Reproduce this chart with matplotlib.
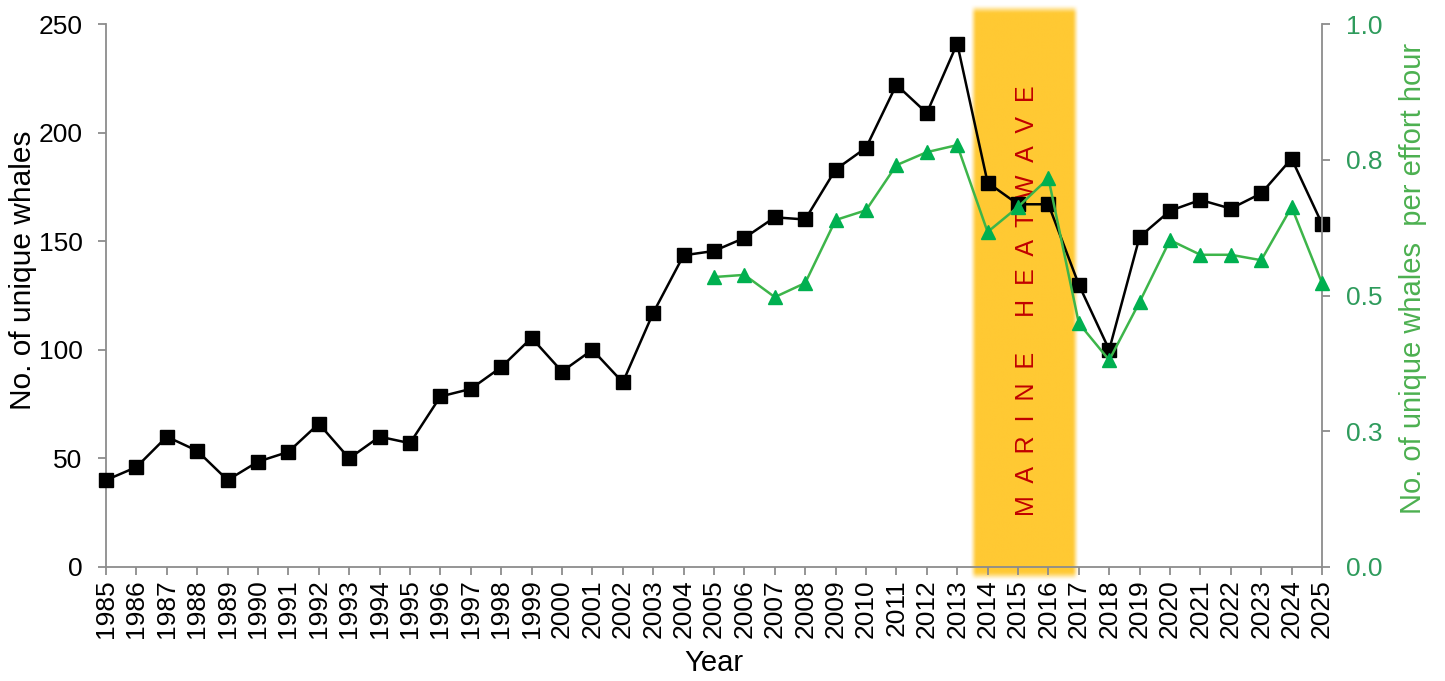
import numpy as np
import matplotlib
matplotlib.use("Agg")
import matplotlib.pyplot as plt
import matplotlib.transforms as mtransforms

plt.rcParams['font.family'] = ['Liberation Sans', 'DejaVu Sans']

# ---------------- data ----------------
years = list(range(1985, 2026))
unique_whales = [40, 46, 60, 53.5, 40, 48.5, 53, 66, 50, 60, 57, 78.5, 82, 92, 105.5,
                 90, 100, 85, 117, 143.5, 145.5, 151.5, 161, 160, 183, 193, 222, 209,
                 241, 177, 167, 167, 130, 100, 152, 164, 169, 165, 172, 188, 158]

effort_years = list(range(2005, 2026))
whales_per_hour = [0.534, 0.538, 0.497, 0.523, 0.639, 0.657, 0.740, 0.764, 0.777,
                   0.617, 0.663, 0.716, 0.449, 0.381, 0.488, 0.602, 0.575, 0.575,
                   0.565, 0.663, 0.523]

left_ticks = [0, 50, 100, 150, 200, 250]
right_ticks = [0.0, 0.25, 0.5, 0.75, 1.0]
right_tick_labels = ["0.0", "0.3", "0.5", "0.8", "1.0"]

heatwave_start, heatwave_end = 2013.52, 2016.88
heatwave_label = "M  A  R  I  N  E     H  E  A  T  W  A  V  E"

# ---------------- styling ----------------
W, H = 1445, 681
fig = plt.figure(figsize=(W / 100, H / 100), dpi=100)
ax = fig.add_axes([106 / W, 1 - 567 / H, (1322 - 106) / W, (567 - 24) / H])
ax2 = ax.twinx()

spine_col = '#8c8c8c'
green_mark = '#00B050'
green_line = '#3DB54A'
green_tick = '#2E9B5C'
green_label = '#4CB050'
band_col = np.array([255, 201, 51]) / 255.0

# heatwave band with soft edges
nx, ny = 200, 400
bx0, bx1 = heatwave_start - 0.3, heatwave_end + 0.3
by0, by1 = -0.05, 1.06
xs = np.linspace(bx0, bx1, nx)
ys = np.linspace(by0, by1, ny)
blur_x = 0.24
blur_y = 0.018
def smooth(t):
    t = np.clip(t, 0, 1)
    return t * t * (3 - 2 * t)
ax_prof = smooth((xs - (heatwave_start - blur_x / 2)) / blur_x) * \
    smooth(((heatwave_end + blur_x / 2) - xs) / blur_x)
y_top, y_bot = 1.027, -0.018
ay_prof = smooth((ys - (y_bot - blur_y / 2)) / blur_y) * \
    smooth(((y_top + blur_y / 2) - ys) / blur_y)
alpha = np.outer(ay_prof[::-1], ax_prof)
img = np.zeros((ny, nx, 4))
img[..., :3] = band_col
img[..., 3] = alpha
trans = mtransforms.blended_transform_factory(ax.transData, ax.transAxes)
ax.imshow(img, extent=[bx0, bx1, by0, by1], transform=trans, aspect='auto',
          interpolation='bilinear', zorder=0, clip_on=False)

ax.text((heatwave_start + heatwave_end) / 2 + 0.1, 0.49, heatwave_label,
        transform=trans, rotation=90, ha='center', va='center',
        color='#C00000', fontsize=18, zorder=1)

ax.plot(years, unique_whales, color='black', lw=1.8, marker='s', ms=10.5,
        zorder=3, clip_on=False)
ax2.plot(effort_years, whales_per_hour, color=green_line, lw=1.8, marker='^',
         ms=10, markerfacecolor=green_mark, markeredgecolor=green_mark,
         zorder=3, clip_on=False)

ax.set_xlim(1985, 2025)
ax.set_ylim(0, 250)
ax2.set_ylim(0, 1)

ax.set_xticks(years)
ax.set_xticklabels([str(y) for y in years], rotation=90)
ax.set_yticks(left_ticks)
ax2.set_yticks(right_ticks)
ax2.set_yticklabels(right_tick_labels)

for a in (ax, ax2):
    a.spines['top'].set_visible(False)
    for s in a.spines.values():
        s.set_color(spine_col)
        s.set_linewidth(1.3)
ax.spines['right'].set_visible(False)
ax2.spines['left'].set_visible(False)
ax2.spines['bottom'].set_visible(False)
ax.patch.set_visible(False)

ax.tick_params(axis='both', direction='out', length=6, width=1.3,
               color=spine_col, labelsize=19, labelcolor='black')
ax.tick_params(axis='y', pad=11)
ax.tick_params(axis='x', pad=3)
ax2.tick_params(axis='y', direction='out', length=6, width=1.3,
                color=spine_col, labelsize=19, labelcolor=green_tick, pad=11)

ax.set_xlabel("Year", fontsize=21, labelpad=8)
ax.set_ylabel("No. of unique whales", fontsize=21.5)
ax.yaxis.set_label_coords(-0.057, 0.547)
ax2.set_ylabel("No. of unique whales  per effort hour", fontsize=21,
               color=green_label, rotation=90)
ax2.yaxis.set_label_coords(1.063, 0.532)

fig.savefig("out.png", dpi=100)
